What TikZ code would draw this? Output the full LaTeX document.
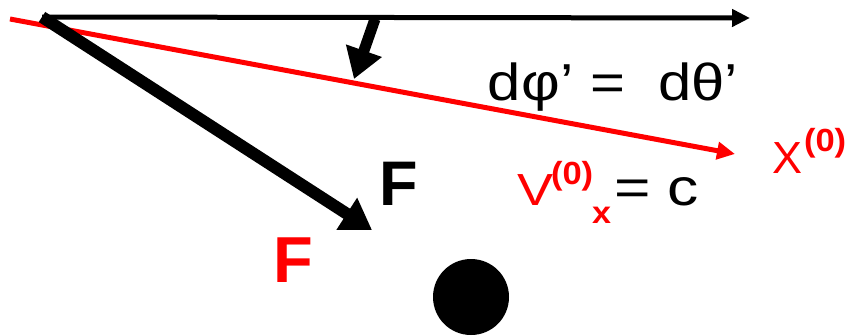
\documentclass[tikz,border=0pt]{standalone}
\usepackage{fontspec}
\setmainfont{Liberation Sans}
\usetikzlibrary{arrows.meta}
\definecolor{myred}{RGB}{255,0,0}
\tikzset{
  lbl/.style={inner sep=0pt, outer sep=0pt, anchor=base west},
  thinarrow/.style={line width=5pt, -{Triangle[length=18pt,width=17pt]}},
  thickarrow/.style={line width=12pt, -{Triangle[length=30pt,width=36pt]}},
}
\newcommand{\fs}[1]{\fontsize{#1}{#1}\selectfont}
\newcommand{\wid}[2]{\scalebox{#1}[1]{#2}}
\begin{document}
\begin{tikzpicture}[x=1pt,y=-1pt]
\useasboundingbox (0,0) rectangle (848,335);
\coordinate (O) at (42,17);
\coordinate (topend) at (750,18);
\coordinate (rstart) at (10,19);
\coordinate (rend) at (735,154);
\coordinate (Fend) at (372,230);
\coordinate (astart) at (375,19);
\coordinate (aend) at (354,79);
\draw[thinarrow, myred] (rstart) -- (rend);
\draw[thinarrow, black] (O) -- (topend);
\draw[thickarrow, black] (O) -- (Fend);
\draw[thickarrow, black, line width=11pt] (astart) -- (aend);
\fill[black] (471,297) circle (38);
\node[lbl] (eq) at (487,100) {\wid{1.15}{\fs{52}d\kern0.02em φ’ =\ \ dθ’}};
\node[lbl, text=myred] (X) at (772,173) {\fs{45}X};
\node[lbl, text=myred] (Xs) at (804,151) {\wid{1.08}{\fs{32}\bfseries (0)}};
\node[lbl, text=myred] (V) at (517,205) {\wid{1.2}{\fs{45}V}};
\node[lbl, text=myred] (Vs) at (551,184) {\wid{1.08}{\fs{32}\bfseries (0)}};
\node[lbl, text=myred] (Vx) at (592,223) {\wid{1.1}{\fs{31}\bfseries x}};
\node[lbl] (ec) at (614,205) {\wid{1.2}{\fs{52}= c}};
\node[lbl] (Fb) at (379,205) {\fs{63}\bfseries F};
\node[lbl, text=myred] (Fr) at (273,282) {\fs{65}\bfseries F};
\end{tikzpicture}
\end{document}
